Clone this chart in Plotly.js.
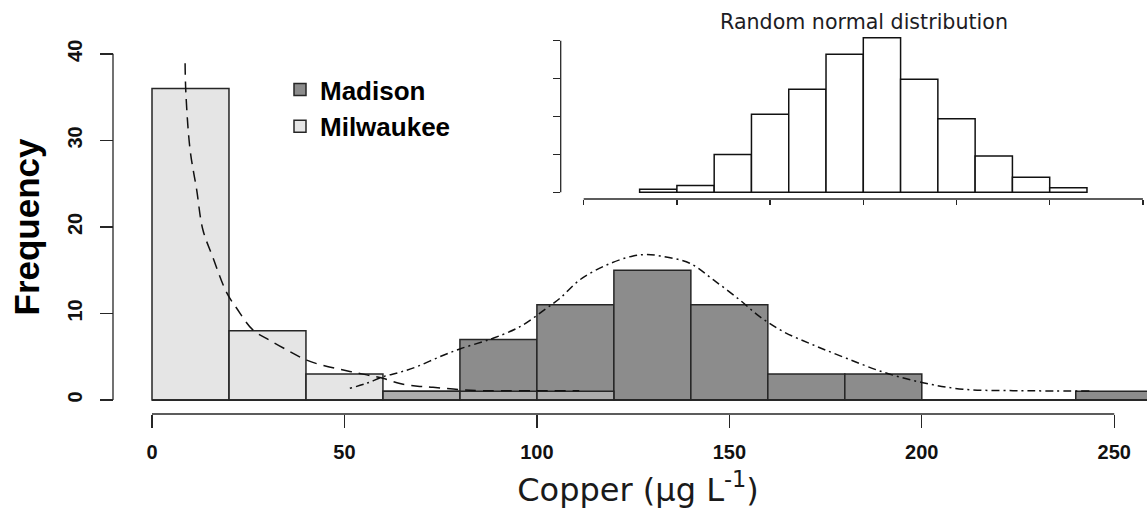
<!DOCTYPE html>
<html>
<head>
<meta charset="utf-8">
<script src="https://cdn.plot.ly/plotly-3.0.1.min.js"></script>
<style>html,body{margin:0;padding:0;background:#fff;}#chart{width:1147px;height:512px;}</style>
</head>
<body>
<div id="chart"></div>
<script>
// ---- data ----
const copperBins = [10, 30, 50, 70, 90, 110, 130, 150, 170, 190, 210, 230, 250]; // bin centres (µg/L), width 20
const madisonCounts   = [0, 0, 0, 1, 7, 11, 15, 11, 3, 3, 0, 0, 1];
const milwaukeeCounts = [36, 8, 3, 1, 1, 1, 0, 0, 0, 0, 0, 0, 0];

const milwaukeeCurveX = [8.6, 8.8, 9.9, 11.6, 13.2, 15.8, 19.4, 22.0, 26.2, 30.6, 35.8, 40.2, 44.4, 51.4, 55.8, 60.0, 64.4, 69.0, 73.0, 80.0, 86.0, 95.6, 111.0];
const milwaukeeCurveY = [38.9, 35.5, 28.9, 24.3, 19.7, 16.5, 12.4, 10.6, 8.1, 6.9, 5.6, 4.6, 4.0, 3.3, 2.9, 2.5, 1.9, 1.6, 1.47, 1.2, 1.08, 1.07, 1.07];

const madisonCurveX = [51.4, 55.8, 60.1, 64.4, 68.8, 74.8, 80.0, 86.0, 88.6, 95.6, 102.5, 106.0, 111.2, 118.1, 125.0, 128.5, 132.0, 139.7, 145.8, 152.7, 157.9, 164.0, 171.8, 180.4, 190.4, 200.3, 210.7, 223.7, 232.0, 243.6];
const madisonCurveY = [1.35, 1.93, 2.7, 3.2, 3.85, 5.0, 5.9, 6.74, 7.13, 8.47, 10.6, 11.76, 13.9, 15.6, 16.65, 16.8, 16.65, 15.8, 13.9, 11.56, 9.63, 7.9, 6.36, 4.82, 3.16, 2.0, 1.24, 1.08, 1.05, 1.04];

const normalBins   = [-11, -9, -7, -5, -3, -1, 1, 3, 5, 7, 9, 11]; // bin centres, width 2
const normalCounts = [4, 9, 50, 103, 136, 182, 204, 149, 97, 48, 20, 6];

const xTicks = [0, 50, 100, 150, 200, 250];
const yTicks = [0, 10, 20, 30, 40];
const insetXTicks = [-15, -10, -5, 0, 5, 10, 15];
const insetYTicks = [0, 50, 100, 150, 200];

const seriesNames = ['Madison', 'Milwaukee'];
const xTitle = 'Copper (µg L<sup>-1</sup>)';
const yTitle = 'Frequency';
const insetTitle = 'Random normal distribution';

// ---- geometry helpers (pixels of the 1147x512 picture) ----
const W = 1147, H = 512;
const ML = 113, MB = 98;                 // plot area: x 113..1147, y 0..414
const PW = W - ML, PH = H - MB;
const pxX = p => (p - ML) / PW;          // picture px -> paper x
const pxY = p => (PH - p) / PH;          // picture px -> paper y

const binW = copperBins[1] - copperBins[0];
const nBinW = normalBins[1] - normalBins[0];
const ink = '#262626';

const traces = [
  {type: 'bar', name: seriesNames[0], x: copperBins, y: madisonCounts, width: binW,
   marker: {color: '#8c8c8c', line: {color: ink, width: 1.5}}, xaxis: 'x', yaxis: 'y', hoverinfo: 'x+y'},
  {type: 'bar', name: seriesNames[1], x: copperBins, y: milwaukeeCounts, width: binW,
   marker: {color: 'rgba(204,204,204,0.5)', line: {color: ink, width: 1.5}}, xaxis: 'x', yaxis: 'y', hoverinfo: 'x+y'},
  {type: 'scatter', mode: 'lines', x: milwaukeeCurveX, y: milwaukeeCurveY, showlegend: false,
   line: {color: '#111', width: 1.5, dash: '11px,7px', shape: 'spline'}, xaxis: 'x', yaxis: 'y'},
  {type: 'scatter', mode: 'lines', x: madisonCurveX, y: madisonCurveY, showlegend: false,
   line: {color: '#111', width: 1.5, dash: '2px,4px,8px,4px', shape: 'spline'}, xaxis: 'x', yaxis: 'y'},
  {type: 'bar', x: normalBins, y: normalCounts, width: nBinW, showlegend: false,
   marker: {color: '#ffffff', line: {color: '#111', width: 1.5}}, xaxis: 'x2', yaxis: 'y2'}
];

const tickFont = {family: 'Liberation Sans, Arial, sans-serif', size: 20, color: '#111', weight: 'bold'};

const layout = {
  width: W, height: H,
  margin: {l: ML, r: 0, t: 0, b: MB, pad: 0},
  paper_bgcolor: '#fff', plot_bgcolor: 'rgba(0,0,0,0)',
  barmode: 'overlay', bargap: 0,
  showlegend: true,
  legend: {x: pxX(280), y: pxY(66), xanchor: 'left', yanchor: 'top', bgcolor: 'rgba(0,0,0,0)',
           font: {family: 'Liberation Sans, Arial, sans-serif', size: 26, color: '#000', weight: 'bold'},
           tracegroupgap: 0, traceorder: 'normal'},
  title: {text: insetTitle, x: 864 / W, y: 1 - 22 / H, xref: 'container', yref: 'container',
          xanchor: 'center', yanchor: 'middle',
          font: {family: 'DejaVu Sans, Verdana, sans-serif', size: 20.6, color: '#1c1c24'}},
  xaxis: {domain: [pxX(129), 1], range: [(129 - 152) / 3.849, (W - 152) / 3.849], anchor: 'y',
          tickmode: 'array', tickvals: xTicks, ticktext: xTicks.map(String),
          ticks: 'outside', ticklen: 13, tickwidth: 1.3, tickcolor: ink,
          showline: false, showgrid: false, zeroline: false, tickfont: tickFont, ticklabelstandoff: 7,
          title: {text: xTitle, standoff: 16, font: {family: 'DejaVu Sans, Verdana, sans-serif', size: 32, color: '#1a1a1a'}}},
  yaxis: {domain: [0, pxY(40)], range: [-1.62, 41.6], anchor: 'free', position: 0,
          tickmode: 'array', tickvals: yTicks, ticktext: yTicks.map(String), tickangle: -90,
          ticks: 'outside', ticklen: 13, tickwidth: 1.3, tickcolor: ink,
          showline: false, showgrid: false, zeroline: false, tickfont: tickFont, ticklabelstandoff: 10,
          title: {text: yTitle, standoff: 12, font: {family: 'Liberation Sans, Arial, sans-serif', size: 35, color: '#000', weight: 'bold'}}},
  xaxis2: {domain: [pxX(560.7), 1], range: [(560.7 - 863.3) / 18.64, (W - 863.3) / 18.64], anchor: 'y2',
           tickmode: 'array', tickvals: insetXTicks, showticklabels: false,
           ticks: 'outside', ticklen: 5, tickwidth: 1.3, tickcolor: ink,
           showline: false, showgrid: false, zeroline: false},
  yaxis2: {domain: [pxY(199), pxY(36)], range: [-8.84, 206.2], anchor: 'x2',
           tickmode: 'array', tickvals: insetYTicks, showticklabels: false,
           ticks: 'outside', ticklen: 7, tickwidth: 1.3, tickcolor: ink,
           showline: false, showgrid: false, zeroline: false},
  shapes: [
    // main x axis line (first to last tick)
    {type: 'line', xref: 'x', yref: 'paper', x0: xTicks[0], x1: xTicks[xTicks.length - 1], y0: 0, y1: 0,
     line: {color: ink, width: 1.3}},
    // main y axis line
    {type: 'line', xref: 'paper', yref: 'y', x0: 0, x1: 0, y0: yTicks[0], y1: yTicks[yTicks.length - 1],
     line: {color: ink, width: 1.3}},
    // zero-count baseline of the histogram
    {type: 'line', xref: 'x', yref: 'y', x0: copperBins[0] - binW / 2, x1: copperBins[copperBins.length - 1] + binW / 2,
     y0: 0, y1: 0, line: {color: ink, width: 1.5}, layer: 'above'},
    // inset axes lines
    {type: 'line', xref: 'x2', yref: 'y2 domain', x0: insetXTicks[0], x1: insetXTicks[insetXTicks.length - 1], y0: 0, y1: 0,
     line: {color: ink, width: 1.3}},
    {type: 'line', xref: 'x2 domain', yref: 'y2', x0: 0, x1: 0, y0: insetYTicks[0], y1: insetYTicks[insetYTicks.length - 1],
     line: {color: ink, width: 1.3}}
  ]
};

Plotly.newPlot('chart', traces, layout, {displayModeBar: false, staticPlot: true});
</script>
</body>
</html>
